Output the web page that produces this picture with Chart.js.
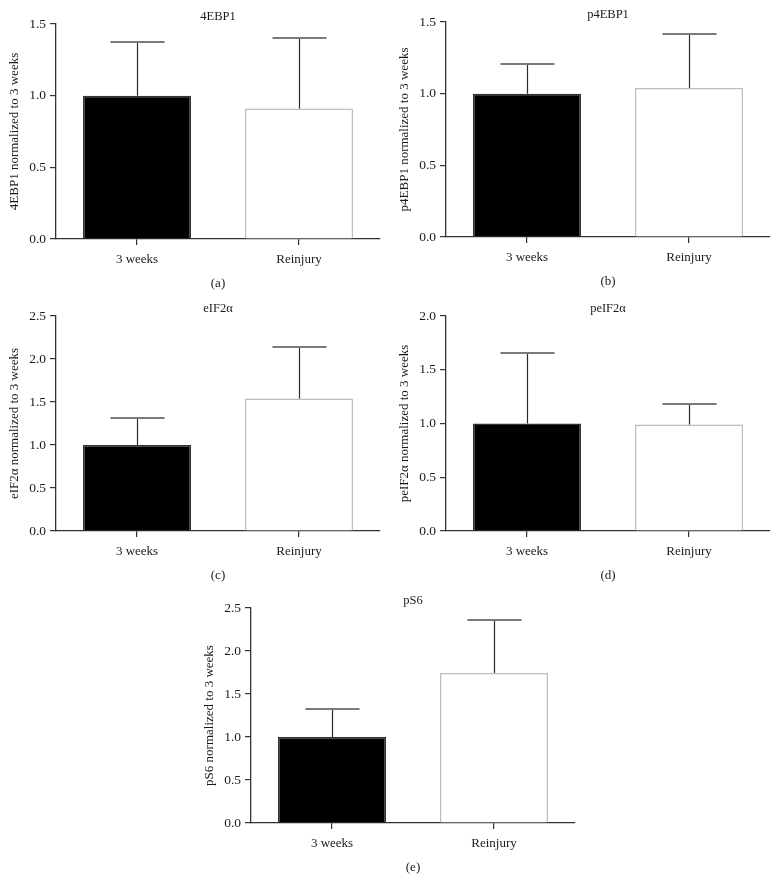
<!DOCTYPE html>
<html>
<head>
<meta charset="utf-8">
<title>Protein levels, 3 weeks vs reinjury</title>
<script src="https://cdn.jsdelivr.net/npm/chart.js@4.4.1/dist/chart.umd.min.js"></script>
<style>
    body { margin: 0; background: #fff; width: 778px; height: 894px; position: relative; overflow: hidden; }
    .panel { position: absolute; width: 390px; height: 300px; }
</style>
</head>
<body>
<div class="panel" style="left:0;top:0"><canvas id="chart0" width="390" height="300"></canvas></div>
<div class="panel" style="left:390px;top:-2px"><canvas id="chart1" width="390" height="300"></canvas></div>
<div class="panel" style="left:0;top:292px"><canvas id="chart2" width="390" height="300"></canvas></div>
<div class="panel" style="left:390px;top:292px"><canvas id="chart3" width="390" height="300"></canvas></div>
<div class="panel" style="left:195px;top:584px"><canvas id="chart4" width="390" height="300"></canvas></div>

<script>
// Data (values normalized to 3 weeks)
const groups = ['3 weeks', 'Reinjury'];
const markers = ['4EBP1', 'p4EBP1', 'eIF2α', 'peIF2α', 'pS6'];
const captions = ['(a)', '(b)', '(c)', '(d)', '(e)'];
const yMax = [1.5, 1.5, 2.5, 2.0, 2.5];

// bar heights
const mean4EBP1 = [1.0, 0.91];
const meanP4EBP1 = [1.0, 1.04];
const meanEIF2a = [1.0, 1.54];
const meanPeIF2a = [1.0, 0.99];
const meanPS6 = [1.0, 1.745];

// top of each error bar
const upper4EBP1 = [1.375, 1.405];
const upperP4EBP1 = [1.21, 1.415];
const upperEIF2a = [1.31, 2.145];
const upperPeIF2a = [1.66, 1.185];
const upperPS6 = [1.32, 2.365];

const means = [mean4EBP1, meanP4EBP1, meanEIF2a, meanPeIF2a, meanPS6];
const uppers = [upper4EBP1, upperP4EBP1, upperEIF2a, upperPeIF2a, upperPS6];

const FONT = '"Liberation Serif", "DejaVu Serif", serif';
const AXIS = '#333333';
const TEXT = '#1a1a1a';

// Draws the upper error bar (stem + cap) above each bar
const errorBarPlugin = {
    id: 'errorBars',
    afterDatasetsDraw(chart, args, opts) {
        const ctx = chart.ctx;
        const yScale = chart.scales.y;
        const meta = chart.getDatasetMeta(0);
        ctx.save();
        meta.data.forEach((bar, i) => {
            const top = Math.round(yScale.getPixelForValue(opts.upper[i]));
            const x = Math.round(bar.x) + 0.5;
            const half = bar.width / 4;
            ctx.strokeStyle = '#2a2a2a';
            ctx.lineWidth = 1.2;
            ctx.beginPath();
            ctx.moveTo(x, bar.y);
            ctx.lineTo(x, top);
            ctx.stroke();
            ctx.strokeStyle = '#7a7a7a';
            ctx.lineWidth = 2;
            ctx.beginPath();
            ctx.moveTo(x - half, top);
            ctx.lineTo(x + half, top);
            ctx.stroke();
        });
        ctx.restore();
    }
};

function buildChart(idx) {
    const ctx = document.getElementById('chart' + idx);
    return new Chart(ctx, {
        type: 'bar',
        data: {
            labels: groups,
            datasets: [{
                data: means[idx],
                backgroundColor: ['#000000', '#ffffff'],
                borderColor: ['#333333', '#bdbdbd'],
                borderWidth: 1.5,
                barPercentage: 0.667,
                categoryPercentage: 1.0
            }]
        },
        options: {
            responsive: false,
            animation: false,
            layout: { padding: { left: 0, right: 10, top: 0, bottom: 0 } },
            plugins: {
                legend: { display: false },
                tooltip: { enabled: false },
                title: {
                    display: true,
                    text: markers[idx],
                    fullSize: false,
                    color: TEXT,
                    font: { family: FONT, size: 12.5, weight: 'normal' },
                    padding: { top: 8.8, bottom: 0.2 }
                },
                errorBars: { upper: uppers[idx] }
            },
            scales: {
                x: {
                    afterFit(scale) { scale.height = 61; },
                    grid: { display: true, drawOnChartArea: false, drawTicks: true, tickLength: 6, offset: false, color: AXIS, lineWidth: 1.2 },
                    border: { display: true, color: AXIS, width: 1.3 },
                    ticks: { color: TEXT, padding: 7, font: { family: FONT, size: 13 } },
                    title: {
                        display: true,
                        text: captions[idx],
                        color: TEXT,
                        font: { family: FONT, size: 13 },
                        padding: { top: 0, bottom: 8.5 }
                    }
                },
                y: {
                    min: 0,
                    max: yMax[idx],
                    afterFit(scale) { scale.width = 56; },
                    grid: { display: true, drawOnChartArea: false, drawTicks: true, tickLength: 6, color: AXIS, lineWidth: 1.2 },
                    border: { display: true, color: AXIS, width: 1.3 },
                    ticks: {
                        stepSize: 0.5,
                        color: TEXT,
                        padding: 4,
                        font: { family: FONT, size: 13.5 },
                        callback: v => v.toFixed(1)
                    },
                    title: {
                        display: true,
                        text: markers[idx] + ' normalized to 3 weeks',
                        color: TEXT,
                        font: { family: FONT, size: 13 },
                        padding: { top: 7.2, bottom: 0 }
                    }
                }
            }
        },
        plugins: [errorBarPlugin]
    });
}

document.addEventListener('DOMContentLoaded', function() {
    markers.forEach((m, i) => buildChart(i));
});
</script>
</body>
</html>
